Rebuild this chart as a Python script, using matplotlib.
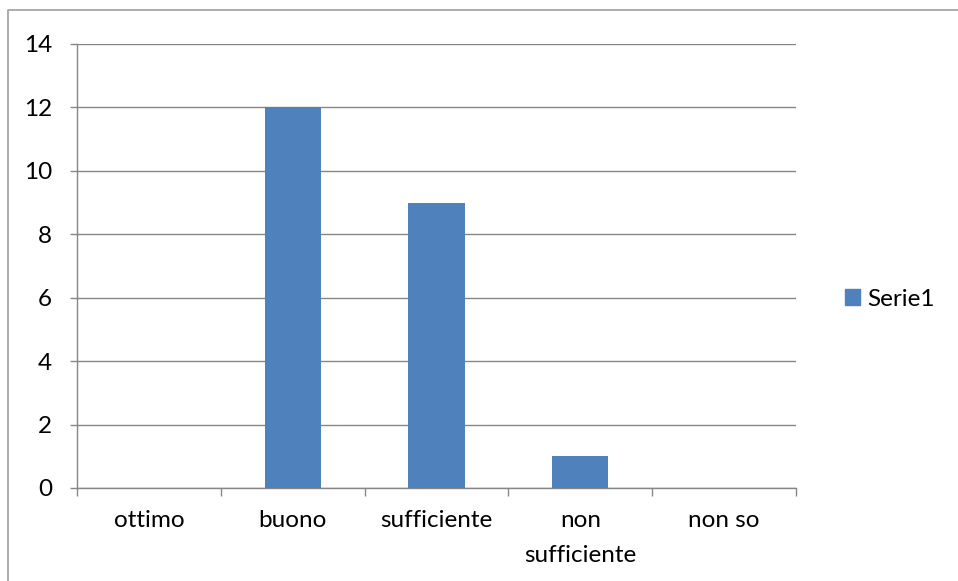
import matplotlib
matplotlib.use("Agg")
import matplotlib.pyplot as plt
from matplotlib.lines import Line2D
from matplotlib.patches import Patch

categories = ["ottimo", "buono", "sufficiente", "non\nsufficiente", "non so"]
values = [0, 12, 9, 1, 0]
yticks = [0, 2, 4, 6, 8, 10, 12, 14]
series_name = "Serie1"

plt.rcParams['font.family'] = ['Lato', 'DejaVu Sans']
W, H = 958, 581
PX = 72/100  # points per pixel at dpi 100
FS = 17.5
fig = plt.figure(figsize=(W/100, H/100), dpi=100)
ax = fig.add_axes([77/W, 1-488/H, (796-77)/W, (488-44)/H])

bar_color = "#4F81BD"
grid_color = "#868686"
x = list(range(len(categories)))
ax.bar(x, values, width=0.39, color=bar_color, zorder=3)
ax.set_xlim(-0.5, len(categories)-0.5)
ax.set_ylim(0, 14)
ax.set_yticks(yticks)
ax.set_yticklabels([str(v) for v in yticks], fontsize=FS)
ax.yaxis.grid(True, color=grid_color, linewidth=1.0, zorder=0)
ax.set_axisbelow(True)

ax.set_xticks([i-0.5 for i in range(len(categories)+1)])
ax.set_xticklabels([])
ax.set_xticks(x, minor=True)
ax.set_xticklabels(categories, minor=True, fontsize=FS, linespacing=1.85)
ax.tick_params(axis='x', which='minor', length=0, pad=22*PX)
ax.tick_params(axis='x', which='major', length=8*PX, color=grid_color, width=1.0, direction='out')
ax.tick_params(axis='y', length=7*PX, color=grid_color, width=1.0, direction='out', pad=18*PX)

for s in ['top', 'right']:
    ax.spines[s].set_visible(False)
for s in ['left', 'bottom']:
    ax.spines[s].set_color(grid_color)
    ax.spines[s].set_linewidth(1.0)

fig.legend(handles=[Patch(color=bar_color, label=series_name)],
           loc='center left', bbox_to_anchor=(845/W, 1-299/H), frameon=False,
           fontsize=FS, handlelength=0.62, handleheight=0.62, handletextpad=0.3,
           borderaxespad=0, borderpad=0)

frame_color = "#A6A6A6"
fig.add_artist(Line2D([8/W, 8/W, 1], [0, 1-10/H, 1-10/H], transform=fig.transFigure,
                      color=frame_color, linewidth=1.3))

fig.savefig("out.png", dpi=100)
